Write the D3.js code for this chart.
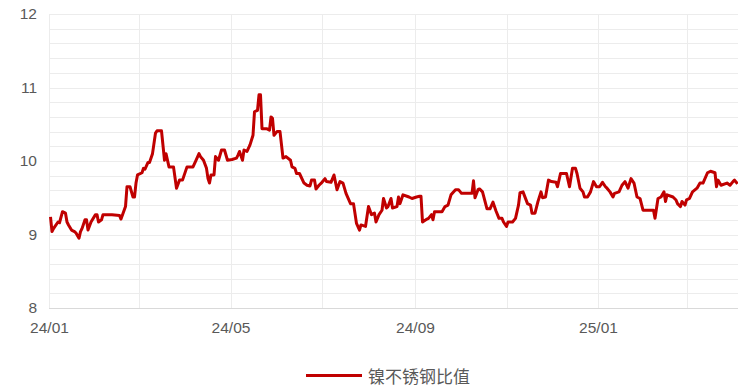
<!DOCTYPE html>
<html><head><meta charset="utf-8">
<script src="https://cdn.jsdelivr.net/npm/d3@7"></script>
<style>body{margin:0;background:#fff;}svg{display:block;}</style>
</head><body><svg id="c" width="738" height="387"></svg>
<script>
const seriesName = "镍不锈钢比值";
const dates = ["2024-01-02","2024-01-03","2024-01-04","2024-01-05","2024-01-07","2024-01-08","2024-01-10","2024-01-12","2024-01-13","2024-01-14","2024-01-16","2024-01-18","2024-01-19","2024-01-21","2024-01-22","2024-01-23","2024-01-25","2024-01-26","2024-01-27","2024-01-29","2024-02-01","2024-02-02","2024-02-03","2024-02-05","2024-02-06","2024-02-12","2024-02-17","2024-02-18","2024-02-21","2024-02-22","2024-02-24","2024-02-26","2024-02-27","2024-02-28","2024-02-29","2024-03-03","2024-03-04","2024-03-05","2024-03-07","2024-03-08","2024-03-10","2024-03-12","2024-03-13","2024-03-16","2024-03-18","2024-03-19","2024-03-21","2024-03-24","2024-03-26","2024-03-28","2024-03-30","2024-04-02","2024-04-06","2024-04-08","2024-04-10","2024-04-11","2024-04-13","2024-04-15","2024-04-16","2024-04-17","2024-04-18","2024-04-20","2024-04-21","2024-04-23","2024-04-25","2024-04-27","2024-04-29","2024-05-02","2024-05-05","2024-05-06","2024-05-07","2024-05-09","2024-05-10","2024-05-12","2024-05-14","2024-05-16","2024-05-17","2024-05-19","2024-05-20","2024-05-21","2024-05-22","2024-05-25","2024-05-27","2024-05-28","2024-05-29","2024-05-30","2024-06-01","2024-06-03","2024-06-05","2024-06-07","2024-06-10","2024-06-11","2024-06-13","2024-06-14","2024-06-16","2024-06-19","2024-06-21","2024-06-23","2024-06-24","2024-06-26","2024-06-27","2024-06-29","2024-07-01","2024-07-03","2024-07-04","2024-07-07","2024-07-09","2024-07-11","2024-07-13","2024-07-15","2024-07-17","2024-07-20","2024-07-22","2024-07-24","2024-07-26","2024-07-27","2024-07-30","2024-08-01","2024-08-03","2024-08-05","2024-08-06","2024-08-08","2024-08-10","2024-08-11","2024-08-13","2024-08-14","2024-08-16","2024-08-17","2024-08-20","2024-08-21","2024-08-22","2024-08-24","2024-08-28","2024-08-30","2024-09-02","2024-09-04","2024-09-05","2024-09-06","2024-09-09","2024-09-10","2024-09-12","2024-09-13","2024-09-14","2024-09-19","2024-09-21","2024-09-23","2024-09-25","2024-09-28","2024-09-30","2024-10-02","2024-10-09","2024-10-10","2024-10-11","2024-10-13","2024-10-14","2024-10-16","2024-10-19","2024-10-21","2024-10-23","2024-10-25","2024-10-27","2024-10-29","2024-10-30","2024-11-01","2024-11-02","2024-11-05","2024-11-07","2024-11-09","2024-11-10","2024-11-12","2024-11-15","2024-11-17","2024-11-18","2024-11-20","2024-11-22","2024-11-24","2024-11-25","2024-11-27","2024-11-29","2024-12-01","2024-12-04","2024-12-05","2024-12-07","2024-12-11","2024-12-13","2024-12-15","2024-12-17","2024-12-18","2024-12-20","2024-12-22","2024-12-23","2024-12-25","2024-12-27","2024-12-29","2024-12-31","2025-01-02","2025-01-04","2025-01-06","2025-01-07","2025-01-09","2025-01-11","2025-01-12","2025-01-15","2025-01-17","2025-01-19","2025-01-21","2025-01-23","2025-01-25","2025-01-27","2025-01-29","2025-01-31","2025-02-07","2025-02-08","2025-02-10","2025-02-12","2025-02-14","2025-02-15","2025-02-16","2025-02-20","2025-02-22","2025-02-23","2025-02-25","2025-02-26","2025-02-28","2025-03-01","2025-03-03","2025-03-05","2025-03-08","2025-03-10","2025-03-12","2025-03-15","2025-03-17","2025-03-20","2025-03-21","2025-03-22","2025-03-24","2025-03-28","2025-03-30","2025-04-01","2025-04-02","2025-04-04"];
const ratio = [9.24,9.04,9.08,9.11,9.17,9.16,9.31,9.29,9.17,9.13,9.06,9.04,9.02,8.95,9.04,9.08,9.20,9.20,9.06,9.17,9.27,9.27,9.17,9.20,9.27,9.27,9.26,9.21,9.38,9.65,9.65,9.51,9.51,9.70,9.81,9.84,9.90,9.89,9.98,9.98,10.10,10.38,10.41,10.41,10.01,10.10,9.92,9.92,9.63,9.74,9.74,9.92,9.92,10.01,10.10,10.06,10.01,9.90,9.76,9.70,9.81,9.81,10.06,10.01,10.15,10.15,10.01,10.02,10.04,10.08,10.13,10.01,10.15,10.13,10.22,10.35,10.67,10.69,10.90,10.90,10.44,10.44,10.42,10.60,10.58,10.35,10.40,10.40,10.04,10.06,10.01,9.92,9.90,9.83,9.83,9.70,9.67,9.66,9.74,9.74,9.62,9.67,9.71,9.76,9.72,9.71,9.81,9.61,9.72,9.70,9.56,9.42,9.42,9.15,9.06,9.13,9.11,9.38,9.27,9.29,9.17,9.27,9.33,9.49,9.36,9.38,9.49,9.36,9.38,9.51,9.42,9.54,9.51,9.49,9.51,9.52,9.52,9.17,9.21,9.22,9.27,9.20,9.31,9.31,9.38,9.40,9.54,9.61,9.61,9.56,9.56,9.73,9.50,9.61,9.62,9.58,9.35,9.35,9.44,9.32,9.22,9.22,9.17,9.11,9.17,9.17,9.22,9.40,9.57,9.58,9.42,9.40,9.29,9.29,9.45,9.58,9.50,9.51,9.74,9.72,9.71,9.65,9.83,9.83,9.65,9.90,9.90,9.83,9.63,9.58,9.51,9.51,9.58,9.72,9.65,9.65,9.71,9.65,9.63,9.58,9.51,9.56,9.58,9.67,9.72,9.63,9.76,9.70,9.51,9.49,9.33,9.33,9.22,9.49,9.51,9.58,9.45,9.54,9.51,9.47,9.42,9.38,9.45,9.40,9.47,9.49,9.58,9.63,9.70,9.70,9.84,9.86,9.84,9.65,9.74,9.67,9.70,9.67,9.72,9.74,9.69];
const yTickLabels = [8, 9, 10, 11, 12];
const xTickLabels = ["24/01", "24/05", "24/09", "25/01"];

(function () {
const parse = d3.timeParse("%Y-%m-%d");
const n = Math.min(dates.length, ratio.length);
const data = dates.slice(0, n).map((d, i) => ({date: parse(d), v: ratio[i]}));
const svg = d3.select("#c");
const pL = 49, pR = 737.5, pT = 14, pB = 308;
const x = d3.scaleTime().domain([parse("2024-01-01"), parse("2025-04-04")]).range([pL, pR]);
const y = d3.scaleLinear().domain([8, 12]).range([pB, pT]);

const hg = d3.range(8.2, 12.01, 0.2);
svg.append("g").selectAll("line").data(hg).join("line")
  .attr("x1", pL).attr("x2", 738)
  .attr("y1", d => Math.round(y(d)) + 0.5).attr("y2", d => Math.round(y(d)) + 0.5)
  .attr("stroke", "#ececec").attr("stroke-width", 1);
const vg = d3.timeMonth.every(2).range(parse("2024-01-01"), parse("2025-04-05"));
svg.append("g").selectAll("line").data(vg).join("line")
  .attr("x1", d => Math.round(x(d)) + 0.5).attr("x2", d => Math.round(x(d)) + 0.5)
  .attr("y1", pT).attr("y2", pB)
  .attr("stroke", "#ececec").attr("stroke-width", 1);
svg.append("line").attr("x1", pL).attr("x2", 738)
  .attr("y1", pB + 0.5).attr("y2", pB + 0.5)
  .attr("stroke", "#d9d9d9").attr("stroke-width", 1);

const yAxis = d3.axisLeft(y).tickValues(yTickLabels).tickSize(0).tickPadding(12).tickFormat(d3.format("d"));
const gy = svg.append("g").attr("transform", `translate(${pL},0)`).call(yAxis);
gy.select(".domain").remove();
gy.selectAll("text").attr("fill", "#595959").attr("font-size", "15.5px").attr("font-family", "'Liberation Sans', Arial, sans-serif");

const xTickDates = xTickLabels.map(s => parse("20" + s.slice(0, 2) + "-" + s.slice(3) + "-01"));
const xAxis = d3.axisBottom(x).tickValues(xTickDates).tickSize(0).tickPadding(14)
  .tickFormat((d, i) => xTickLabels[i]);
const gx = svg.append("g").attr("transform", `translate(0,${pB})`).call(xAxis);
gx.select(".domain").remove();
gx.selectAll("text").attr("fill", "#595959").attr("font-size", "15.5px").attr("font-family", "'Liberation Sans', Arial, sans-serif");

const line = d3.line().x(d => x(d.date)).y(d => y(d.v));
svg.append("path").datum(data).attr("d", line)
  .attr("fill", "none").attr("stroke", "#C00000").attr("stroke-width", 3)
  .attr("stroke-linejoin", "round");

svg.append("line").attr("x1", 306).attr("x2", 362).attr("y1", 375.5).attr("y2", 375.5)
  .attr("stroke", "#C00000").attr("stroke-width", 3);
svg.append("text").attr("x", 368).attr("y", 375).attr("dominant-baseline", "central")
  .attr("fill", "#595959").attr("font-size", "17px")
  .attr("font-family", "'Noto Sans CJK SC', sans-serif").text(seriesName);
})();
</script></body></html>
